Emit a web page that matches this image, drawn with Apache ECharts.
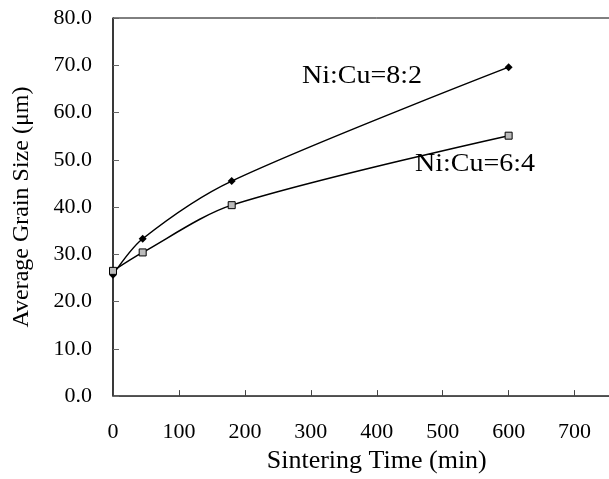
<!DOCTYPE html>
<html>
<head>
<meta charset="utf-8">
<script src="https://cdn.jsdelivr.net/npm/echarts@6/dist/echarts.min.js"></script>
<style>
  html, body { margin: 0; padding: 0; background: #fff; overflow: hidden; }
  /* the original figure is cropped at the right edge, so the chart is wider than the window */
  #chart { width: 660px; height: 479px; }
</style>
</head>
<body>
<div id="chart"></div>
<script>
// sintering time (min)
var times = [0, 45, 180, 600];
// average grain size (um)
var size82 = [25.7, 33.3, 45.5, 69.6];
var size64 = [26.5, 30.4, 40.4, 55.1];
var yTicks = [0, 10, 20, 30, 40, 50, 60, 70, 80];
var xTicks = [0, 100, 200, 300, 400, 500, 600, 700, 800];

var font = 'Liberation Serif';

function pairs(xs, ys) {
    return xs.map(function (x, i) { return [x, ys[i]]; });
}

var chart = echarts.init(document.getElementById('chart'));
chart.setOption({
    animation: false,
    grid: {
        left: 113, top: 18, bottom: 82, right: 13,
        show: true, borderColor: '#000', borderWidth: 1
    },
    xAxis: {
        type: 'value',
        min: xTicks[0], max: xTicks[xTicks.length - 1], interval: 100,
        name: 'Sintering Time (min)',
        nameLocation: 'middle',
        nameGap: 37,
        nameTextStyle: { fontFamily: font, fontSize: 26, color: '#000' },
        axisLine: { lineStyle: { color: '#444', width: 1.5 } },
        axisTick: { inside: true, length: 6, lineStyle: { color: '#444' } },
        axisLabel: { fontFamily: font, fontSize: 22, color: '#000', margin: 25 },
        splitLine: { show: false }
    },
    yAxis: {
        type: 'value',
        min: yTicks[0], max: yTicks[yTicks.length - 1], interval: 10,
        name: 'Average Grain Size (\u03bcm)',
        nameLocation: 'middle',
        nameGap: 79,
        nameTextStyle: { fontFamily: font, fontSize: 24, color: '#000' },
        axisLine: { show: true, lineStyle: { color: '#222', width: 1.5 } },
        axisTick: { show: true, inside: true, length: 6, lineStyle: { color: '#666' } },
        axisLabel: {
            fontFamily: font, fontSize: 22, color: '#000', margin: 21,
            padding: [6, 0, 0, 0],
            formatter: function (v) { return v.toFixed(1); }
        },
        splitLine: { show: false }
    },
    graphic: [
        {
            type: 'text', left: 302, top: 64, scaleX: 1.12,
            style: { text: 'Ni:Cu=8:2', font: '25px "Liberation Serif"', fill: '#000' }
        },
        {
            type: 'text', left: 415, top: 152, scaleX: 1.12,
            style: { text: 'Ni:Cu=6:4', font: '25px "Liberation Serif"', fill: '#000' }
        }
    ],
    series: [
        {
            name: 'Ni:Cu=8:2',
            type: 'line',
            smooth: 0.3,
            data: pairs(times, size82),
            symbol: 'diamond',
            symbolSize: 8,
            lineStyle: { color: '#000', width: 1.5 },
            itemStyle: { color: '#000' }
        },
        {
            name: 'Ni:Cu=6:4',
            type: 'line',
            smooth: 0.3,
            data: pairs(times, size64),
            symbol: 'rect',
            symbolSize: 7,
            lineStyle: { color: '#000', width: 1.5 },
            itemStyle: { color: '#bbb', borderColor: '#000', borderWidth: 1 }
        }
    ]
});
</script>
</body>
</html>
